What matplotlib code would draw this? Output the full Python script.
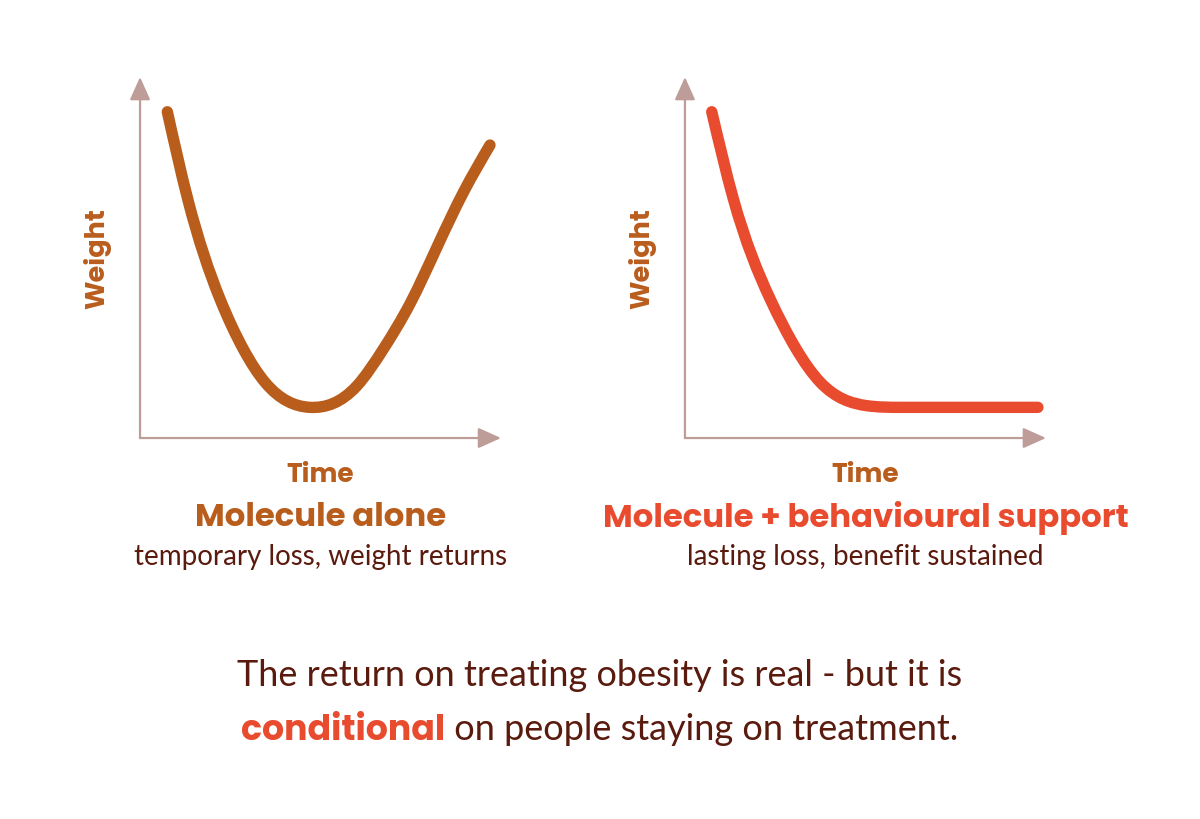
import matplotlib
matplotlib.use("Agg")
import numpy as np
import matplotlib.pyplot as plt
from matplotlib import font_manager
from matplotlib.path import Path
from matplotlib.patches import PathPatch

# ---------------- data (axis units 0..100) ----------------
alone_time = [7.56, 13.21, 22.16, 28.61, 34.63, 47.09, 60.03, 67.40, 74.79, 82.27, 89.75, 96.95]
alone_weight = [90.39, 66.20, 38.50, 24.65, 15.43, 8.50, 14.40, 24.65, 37.20, 52.90, 68.40, 81.16]

support_time = [7.42, 13.42, 23.61, 30.83, 37.50, 50.47, 59.72, 97.78]
support_weight = [90.39, 66.20, 38.50, 24.65, 15.43, 8.95, 8.50, 8.50]

x_label = "Time"
y_label = "Weight"
titles = ["Molecule alone", "Molecule + behavioural support"]
subtitles = ["temporary loss, weight returns", "lasting loss, benefit sustained"]
footer_line1 = "The return on treating obesity is real - but it is"
footer_bold = "conditional"
footer_rest = " on people staying on treatment."

# ---------------- style ----------------
BROWN = "#B95D1D"
RED = "#E84B2E"
DARK = "#5A1A0E"
AXIS = "#CDB3AE"
HEAD = "#BE9C97"

avail = {f.name for f in font_manager.fontManager.ttflist}
BOLD_FONT = "Poppins" if "Poppins" in avail else ("Open Sans" if "Open Sans" in avail else "DejaVu Sans")
BODY_FONT = "Lato" if "Lato" in avail else "DejaVu Sans"


def spline_path(xs, ys, end_slope=None, flat_until=None):
    """C2 cubic spline through the read points, drawn as Bezier segments.
    If flat_until is given, the last point is reached by a straight segment."""
    xs = list(xs)
    ys = list(ys)
    tail = None
    if flat_until is not None:
        tail = (xs.pop(), ys.pop())
    n = len(xs)
    h = [xs[k + 1] - xs[k] for k in range(n - 1)]
    d = [(ys[k + 1] - ys[k]) / h[k] for k in range(n - 1)]
    A = np.zeros((n, n))
    b = np.zeros(n)
    A[0, 0], A[0, 1], b[0] = 2, 1, 3 * d[0]
    if end_slope is None:
        A[-1, -2], A[-1, -1], b[-1] = 1, 2, 3 * d[-1]
    else:
        A[-1, -1], b[-1] = 1, end_slope
    for k in range(1, n - 1):
        A[k, k - 1] = h[k]
        A[k, k] = 2 * (h[k - 1] + h[k])
        A[k, k + 1] = h[k - 1]
        b[k] = 3 * (h[k] * d[k - 1] + h[k - 1] * d[k])
    m = np.linalg.solve(A, b)
    verts = [(xs[0], ys[0])]
    codes = [Path.MOVETO]
    for k in range(n - 1):
        c1 = (xs[k] + h[k] / 3, ys[k] + m[k] * h[k] / 3)
        c2 = (xs[k + 1] - h[k] / 3, ys[k + 1] - m[k + 1] * h[k] / 3)
        verts += [c1, c2, (xs[k + 1], ys[k + 1])]
        codes += [Path.CURVE4] * 3
    if tail is not None:
        verts.append(tail)
        codes.append(Path.LINETO)
    return Path(verts, codes)


fig = plt.figure(figsize=(12, 8.2), dpi=100)
fig.patch.set_facecolor("white")

paths = [spline_path(alone_time, alone_weight),
         spline_path(support_time, support_weight, end_slope=0.0, flat_until=True)]
panels = [(0.1167, BROWN), (0.5708, RED)]

for i, (x0, col) in enumerate(panels):
    ax = fig.add_axes([x0, 0.4646, 0.3008, 0.4402])
    ax.set_xlim(0, 100)
    ax.set_ylim(0, 100)
    for s in ax.spines.values():
        s.set_visible(False)
    ax.set_xticks([])
    ax.set_yticks([])
    ax.patch.set_alpha(0)
    # axes with arrows
    for tip in [(1.0, 0.0), (0.0, 1.0)]:
        ax.annotate("", xy=tip, xytext=(0, 0), xycoords="axes fraction",
                    arrowprops=dict(arrowstyle="-|>,head_length=1.0,head_width=0.45",
                                    color=AXIS, lw=1.6, shrinkA=0, shrinkB=0,
                                    mutation_scale=14, fc=HEAD, ec=HEAD))
    patch = PathPatch(paths[i], facecolor="none", edgecolor=col,
                      lw=8.2, capstyle="round", joinstyle="round",
                      clip_on=False, zorder=3)
    ax.add_patch(patch)
    ax.text(-0.118, 0.5, y_label, rotation=90, ha="center", va="center",
            transform=ax.transAxes, fontsize=19.5, fontweight="bold",
            family=BOLD_FONT, color=BROWN)
    ax.text(0.5, -0.1, x_label, ha="center", va="center",
            transform=ax.transAxes, fontsize=19, fontweight="bold",
            family=BOLD_FONT, color=BROWN)
    ax.text(0.5, -0.218, titles[i], ha="center", va="center",
            transform=ax.transAxes, fontsize=23.3, fontweight="bold",
            family=BOLD_FONT, color=col)
    ax.text(0.5, -0.328, subtitles[i], ha="center", va="center",
            transform=ax.transAxes, fontsize=20, family=BODY_FONT, color=DARK)

# footer
fig.text(0.5, 1 - 676 / 820, footer_line1, ha="center", va="center",
         fontsize=25.9, family=BODY_FONT, color=DARK)

y2 = 1 - 740 / 820
t1 = fig.text(0, y2, footer_bold, ha="left", va="baseline", fontsize=25,
              fontweight="bold", family=BOLD_FONT, color=RED)
t2 = fig.text(0, y2, footer_rest, ha="left", va="baseline", fontsize=26,
              family=BODY_FONT, color=DARK)
fig.canvas.draw()
r = fig.canvas.get_renderer()
w1 = t1.get_window_extent(r).width
w2 = t2.get_window_extent(r).width
W = fig.bbox.width
start = (W - (w1 + w2)) / 2
t1.set_x(start / W)
t2.set_x((start + w1) / W)

fig.savefig("out.png", dpi=100, facecolor="white")
